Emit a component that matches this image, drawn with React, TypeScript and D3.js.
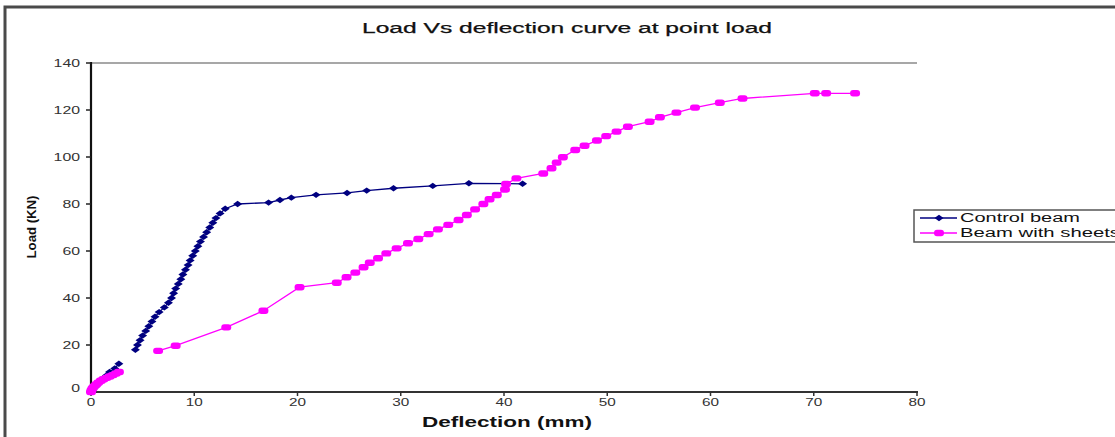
import React from "react";
import * as d3 from "d3";

const title = "Load Vs deflection curve at point load";
const xLabel = "Deflection (mm)";
const yLabel = "Load (KN)";
const xTicks = [0, 10, 20, 30, 40, 50, 60, 70, 80];
const yTicks = [0, 20, 40, 60, 80, 100, 120, 140];
const seriesNames = ["Control beam", "Beam with sheets"];

// Control beam: initial readings, then main test readings
const controlX1 = [0, 0.2, 0.4, 0.6, 0.8, 1.0, 1.2, 1.5, 1.8, 2.3, 2.7];
const controlY1 = [0, 1, 2, 3, 4, 5, 6, 7, 8.5, 10, 12];
const controlX2 = [4.3, 4.5, 4.75, 5.0, 5.3, 5.6, 5.9, 6.2, 6.6, 7.1, 7.5, 7.8, 8.0, 8.2, 8.45, 8.7, 8.9, 9.15, 9.4, 9.6, 9.85, 10.1, 10.35, 10.6, 10.9, 11.2, 11.5, 11.8, 12.1, 12.5, 13.0, 14.2, 17.2, 18.3, 19.4, 21.8, 24.8, 26.7, 29.3, 33.1, 36.6, 41.8];
const controlY2 = [18, 20, 22, 24, 26, 28, 30, 32, 34, 36, 38, 40, 42, 44, 46, 48, 50, 52, 54, 56, 58, 60, 62, 64, 66, 68, 70, 72, 74, 76, 78, 80, 80.6, 81.7, 82.7, 83.9, 84.7, 85.7, 86.7, 87.7, 88.8, 88.6];

// Beam with sheets
const sheetsX1 = [0, 0.05, 0.15, 0.3, 0.5, 0.7, 0.95, 1.2, 1.5, 1.8, 2.1, 2.4, 2.7];
const sheetsY1 = [0, 0.8, 1.6, 2.4, 3.2, 4.0, 4.8, 5.4, 6.0, 6.6, 7.2, 7.8, 8.5];
const sheetsX2 = [6.5, 8.2, 13.1, 16.7, 20.2, 23.8, 24.75, 25.6, 26.4, 27.0, 27.8, 28.6, 29.6, 30.7, 31.7, 32.7, 33.6, 34.6, 35.6, 36.4, 37.2, 38.0, 38.6, 39.3, 40.1, 40.2, 41.2, 43.8, 44.6, 45.1, 45.7, 46.9, 47.8, 49.0, 49.9, 50.9, 52.0, 54.1, 55.1, 56.7, 58.5, 60.9, 63.1, 70.1, 71.2, 74.0];
const sheetsY2 = [17.5, 19.7, 27.5, 34.6, 44.6, 46.5, 48.8, 50.8, 53.1, 55.0, 56.9, 59.0, 61.1, 63.3, 65.1, 67.2, 69.2, 71.1, 73.2, 75.3, 77.7, 80.0, 82.0, 83.8, 86.2, 88.5, 90.9, 93.0, 95.2, 97.6, 99.9, 103, 104.8, 107, 108.9, 110.8, 112.9, 115.0, 116.9, 118.9, 121.0, 123.1, 124.9, 127.1, 127.1, 127.1];

const NAVY = "#000080";
const MAG = "#FF00FF";
const FONT = "Liberation Sans, Arial, sans-serif";

type P = [number, number];
const zip = (xs: number[], ys: number[]): P[] => xs.map((x, i) => [x, ys[i]]);

export default function App() {
  const x = d3.scaleLinear().domain([0, 80]).range([91, 917]);
  const y = d3.scaleLinear().domain([0, 140]).range([392, 63]);
  const line = d3.line<P>().x((d) => x(d[0])).y((d) => y(d[1]));

  const c1 = zip(controlX1, controlY1);
  const c2 = zip(controlX2, controlY2);
  const s1 = zip(sheetsX1, sheetsY1);
  const s2 = zip(sheetsX2, sheetsY2);

  const diamond = (cx: number, cy: number, k: string) => (
    <polygon key={k} points={`${cx - 4.5},${cy} ${cx},${cy - 3.2} ${cx + 4.5},${cy} ${cx},${cy + 3.2}`} fill={NAVY} />
  );
  const square = (cx: number, cy: number, k: string) => (
    <rect key={k} x={cx - 5} y={cy - 3.2} width={10} height={6.4} rx={3} fill={MAG} />
  );

  return (
    <svg width={1115} height={437} style={{ position: "absolute", left: 0, top: 0, background: "#fff" }} fontFamily={FONT}>
      <rect x={0} y={0} width={1115} height={437} fill="#fff" />
      {/* outer chart border */}
      <rect x={5} y={7} width={1200} height={500} fill="none" stroke="#4a4a4a" strokeWidth={3} />

      {/* title */}
      <text x={567} y={33} textAnchor="middle" fontSize={14} fill="#111" stroke="#111" strokeWidth={0.25} textLength={410} lengthAdjust="spacingAndGlyphs">{title}</text>

      {/* top plot border */}
      <line x1={91} x2={917} y1={63} y2={63} stroke="#8a8a8a" strokeWidth={1.5} />

      {/* x axis */}
      <line x1={90} x2={918} y1={392} y2={392} stroke="#333" strokeWidth={2} />
      {xTicks.map((t) => (
        <g key={"xt" + t}>
          <line x1={x(t)} x2={x(t)} y1={392} y2={396} stroke="#333" strokeWidth={1.5} />
          <text x={x(t)} y={406} textAnchor="middle" fontSize={10} fill="#333" textLength={String(t).length * 8.5} lengthAdjust="spacingAndGlyphs">{t}</text>
        </g>
      ))}

      {/* y axis */}
      <line x1={91} x2={91} y1={62} y2={394} stroke="#111" strokeWidth={2.2} />
      {yTicks.map((t) => (
        <g key={"yt" + t}>
          <line x1={86} x2={91} y1={y(t)} y2={y(t)} stroke="#222" strokeWidth={1.5} />
          <text x={80} y={(t === 0 ? y(t) - 4 : y(t)) + 3.5} textAnchor="end" fontSize={10} fill="#333" textLength={String(t).length * 8.8} lengthAdjust="spacingAndGlyphs">{t}</text>
        </g>
      ))}

      {/* axis labels */}
      <text x={507} y={427} textAnchor="middle" fontSize={14} fontWeight="bold" fill="#111" textLength={170} lengthAdjust="spacingAndGlyphs">{xLabel}</text>
      <text transform="translate(36,227) rotate(-90)" textAnchor="middle" fontSize={13} fontWeight="bold" fill="#111" textLength={63} lengthAdjust="spacingAndGlyphs">{yLabel}</text>

      {/* series lines */}
      <path d={line(c1) || ""} fill="none" stroke={NAVY} strokeWidth={1.3} />
      <path d={line(c2) || ""} fill="none" stroke={NAVY} strokeWidth={1.3} />
      <path d={line(s1) || ""} fill="none" stroke={MAG} strokeWidth={1.3} />
      <path d={line(s2) || ""} fill="none" stroke={MAG} strokeWidth={1.3} />

      {/* markers */}
      {c1.concat(c2).map((d, i) => diamond(x(d[0]), y(d[1]), "c" + i))}
      {s1.concat(s2).map((d, i) => square(x(d[0]), y(d[1]), "s" + i))}

      {/* legend */}
      <rect x={914} y={210} width={250} height={32} fill="#fff" stroke="#555" strokeWidth={1.5} />
      <line x1={920} x2={957} y1={218} y2={218} stroke={NAVY} strokeWidth={1.3} />
      {diamond(939, 218, "ld")}
      <text x={960} y={222} fontSize={12} fill="#111" textLength={120} lengthAdjust="spacingAndGlyphs">{seriesNames[0]}</text>
      <line x1={920} x2={957} y1={233} y2={233} stroke={MAG} strokeWidth={1.3} />
      {square(939, 233, "ls")}
      <text x={960} y={237} fontSize={12} fill="#111" textLength={160} lengthAdjust="spacingAndGlyphs">{seriesNames[1]}</text>
    </svg>
  );
}
